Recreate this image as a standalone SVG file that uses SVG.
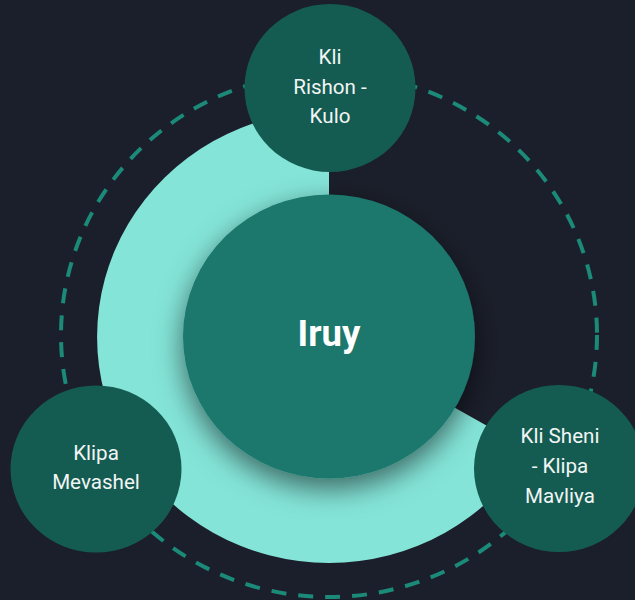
<svg xmlns="http://www.w3.org/2000/svg" width="635" height="600" viewBox="0 0 635 600">
  <defs>
    <filter id="shadow" x="-40%" y="-40%" width="180%" height="180%">
      <feDropShadow dx="0" dy="10" stdDeviation="14" flood-color="#000000" flood-opacity="0.55"/>
    </filter>
    <style>
      .bg { fill: #1b1f2b; }
      .ring { fill: none; stroke: #1b8a78; stroke-width: 4; stroke-dasharray: 15 12; }
      .sector { fill: #84e4d8; }
      .hub { fill: #1b786d; filter: url(#shadow); }
      .node { fill: #145c52; }
      .label { font-family: Roboto, "Liberation Sans", sans-serif; font-size: 20.6px; fill: #f2f5f4; text-anchor: middle; }
      .hublabel { font-family: Roboto, "Liberation Sans", sans-serif; font-size: 36.5px; font-weight: bold; fill: #ffffff; text-anchor: middle; }
    </style>
  </defs>
  <rect class="bg" x="0" y="0" width="635" height="600"/>
  <g id="connectors">
    <ellipse class="ring" cx="329" cy="335" rx="268" ry="262"/>
    <path class="sector" d="M 329 337 L 329 111 A 232 226 0 1 0 530 450 Z"/>
  </g>
  <g id="node-iruy">
    <ellipse class="hub" cx="329" cy="336.5" rx="146" ry="142"/>
    <text class="hublabel" x="329" y="346">Iruy</text>
  </g>
  <g id="node-kli-rishon">
    <ellipse class="node" cx="330" cy="88" rx="85.5" ry="84"/>
    <text class="label" x="330" y="64">Kli</text>
    <text class="label" x="330" y="94">Rishon -</text>
    <text class="label" x="330" y="123">Kulo</text>
  </g>
  <g id="node-klipa-mevashel">
    <ellipse class="node" cx="96" cy="469" rx="85.5" ry="83.5"/>
    <text class="label" x="96" y="460">Klipa</text>
    <text class="label" x="96" y="489">Mevashel</text>
  </g>
  <g id="node-kli-sheni">
    <ellipse class="node" cx="559" cy="468.5" rx="85" ry="83.5"/>
    <text class="label" x="560" y="443">Kli Sheni</text>
    <text class="label" x="560" y="473">- Klipa</text>
    <text class="label" x="560" y="502.5">Mavliya</text>
  </g>
</svg>
